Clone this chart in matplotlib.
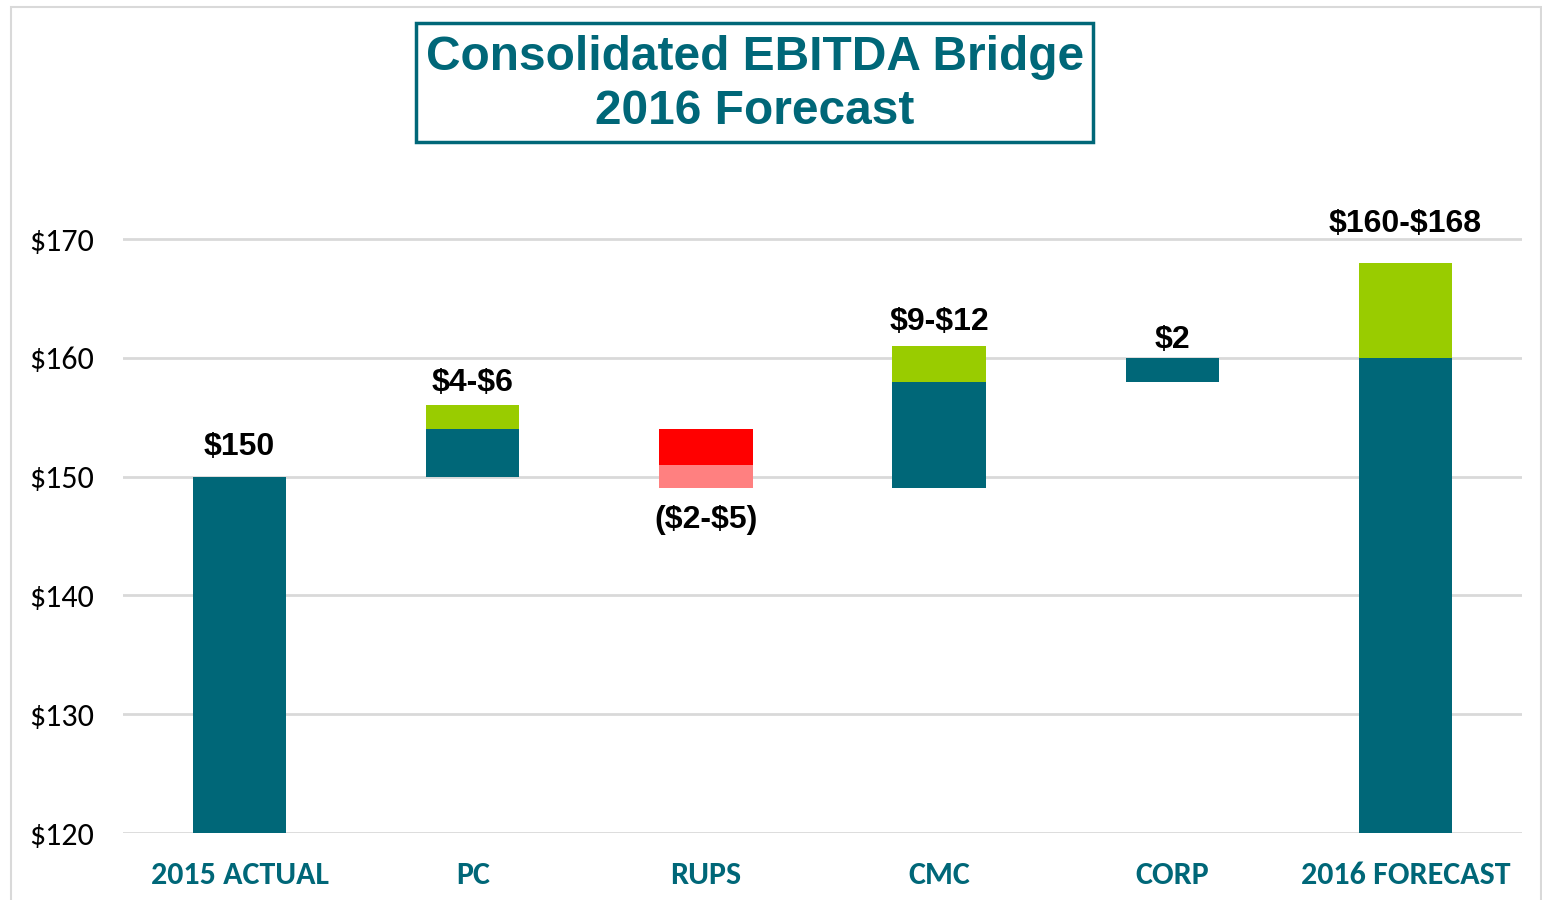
import matplotlib.pyplot as plt
from matplotlib.patches import Rectangle
import numpy as np

# data
categories = ['2015 ACTUAL', 'PC', 'RUPS', 'CMC', 'CORP', '2016 FORECAST']
solid_bottom = [0, 150, 151, 149, 158, 0]
solid_top = [150, 154, 154, 158, 160, 160]
range_bottom = [np.nan, 154, 149, 158, np.nan, 160]
range_top = [np.nan, 156, 151, 161, np.nan, 168]
value_labels = ['$150', '$4-$6', '($2-$5)', '$9-$12', '$2', '$160-$168']
yticks = [120, 130, 140, 150, 160, 170]

teal = '#006778'
green = '#99CC00'
red = '#FF0000'
pink = '#FF8080'
grid_gray = '#D9D9D9'

solid_colors = [teal, teal, red, teal, teal, teal]
range_colors = [green, green, pink, green, green, green]
# label offset in pixels from bar top (negative = below bar bottom)
label_offsets = [30, 22, -32, 24, 18, 39]

plt.rcParams['text.parse_math'] = False

fig = plt.figure(figsize=(15.42, 9), dpi=100)
ax = fig.add_axes([123 / 1542, 1 - 833 / 900, (1522 - 123) / 1542, (833 - 200) / 900])

x = np.arange(len(categories))
width = 0.4
sb = np.array(solid_bottom, dtype=float)
st = np.array(solid_top, dtype=float)
rb = np.array(range_bottom, dtype=float)
rt = np.array(range_top, dtype=float)

ax.bar(x, st - sb, bottom=sb, width=width, color=solid_colors, zorder=3)
mask = ~np.isnan(rb)
ax.bar(x[mask], (rt - rb)[mask], bottom=rb[mask], width=width,
       color=[c for c, m in zip(range_colors, mask) if m], zorder=3)

for i, lab in enumerate(value_labels):
    off = label_offsets[i]
    if off >= 0:
        y = np.nanmax([st[i], rt[i]])
    else:
        y = np.nanmin([sb[i], rb[i]])
    ax.annotate(lab, (x[i], y), xytext=(0, off), textcoords='offset pixels',
                ha='center', va='center', fontsize=23, fontweight='bold',
                family=['Liberation Sans', 'DejaVu Sans'], color='black', zorder=4)

ax.set_xlim(-0.5, len(categories) - 0.5)
ax.set_ylim(120, 170 + 39 / 11.88)
ax.set_yticks(yticks)
ax.set_yticklabels(['$%d' % v for v in yticks], fontsize=23,
                   family=['Carlito', 'Lato', 'DejaVu Sans'], color='black')
ax.set_xticks(x)
ax.set_xticklabels(categories, fontsize=23, fontweight='bold',
                   family=['Carlito', 'Lato', 'DejaVu Sans'], color=teal)
ax.tick_params(axis='both', length=0)
ax.tick_params(axis='y', pad=21)
ax.tick_params(axis='x', pad=20)
ax.yaxis.grid(True, color=grid_gray, linewidth=2, zorder=0)
ax.set_axisbelow(True)
for s in ax.spines.values():
    s.set_visible(False)

# outer frame
fig.add_artist(Rectangle((11 / 1542, -0.02), (1541 - 11) / 1542, 1.02 - 7 / 900,
                         transform=fig.transFigure, fill=False,
                         edgecolor=grid_gray, linewidth=1.5))

# title box
fig.add_artist(Rectangle((416 / 1542, 1 - 142 / 900), (1093 - 416) / 1542, 119 / 900,
                         transform=fig.transFigure, fill=False,
                         edgecolor=teal, linewidth=2.5))
title_font = ['Liberation Sans', 'DejaVu Sans']
fig.text(755 / 1542, 1 - 58 / 900, 'Consolidated EBITDA Bridge', ha='center', va='center',
         fontsize=34.5, fontweight='bold', family=title_font, color=teal)
fig.text(755 / 1542, 1 - 111 / 900, '2016 Forecast', ha='center', va='center',
         fontsize=34.5, fontweight='bold', family=title_font, color=teal)

fig.savefig('out.png', dpi=100)
